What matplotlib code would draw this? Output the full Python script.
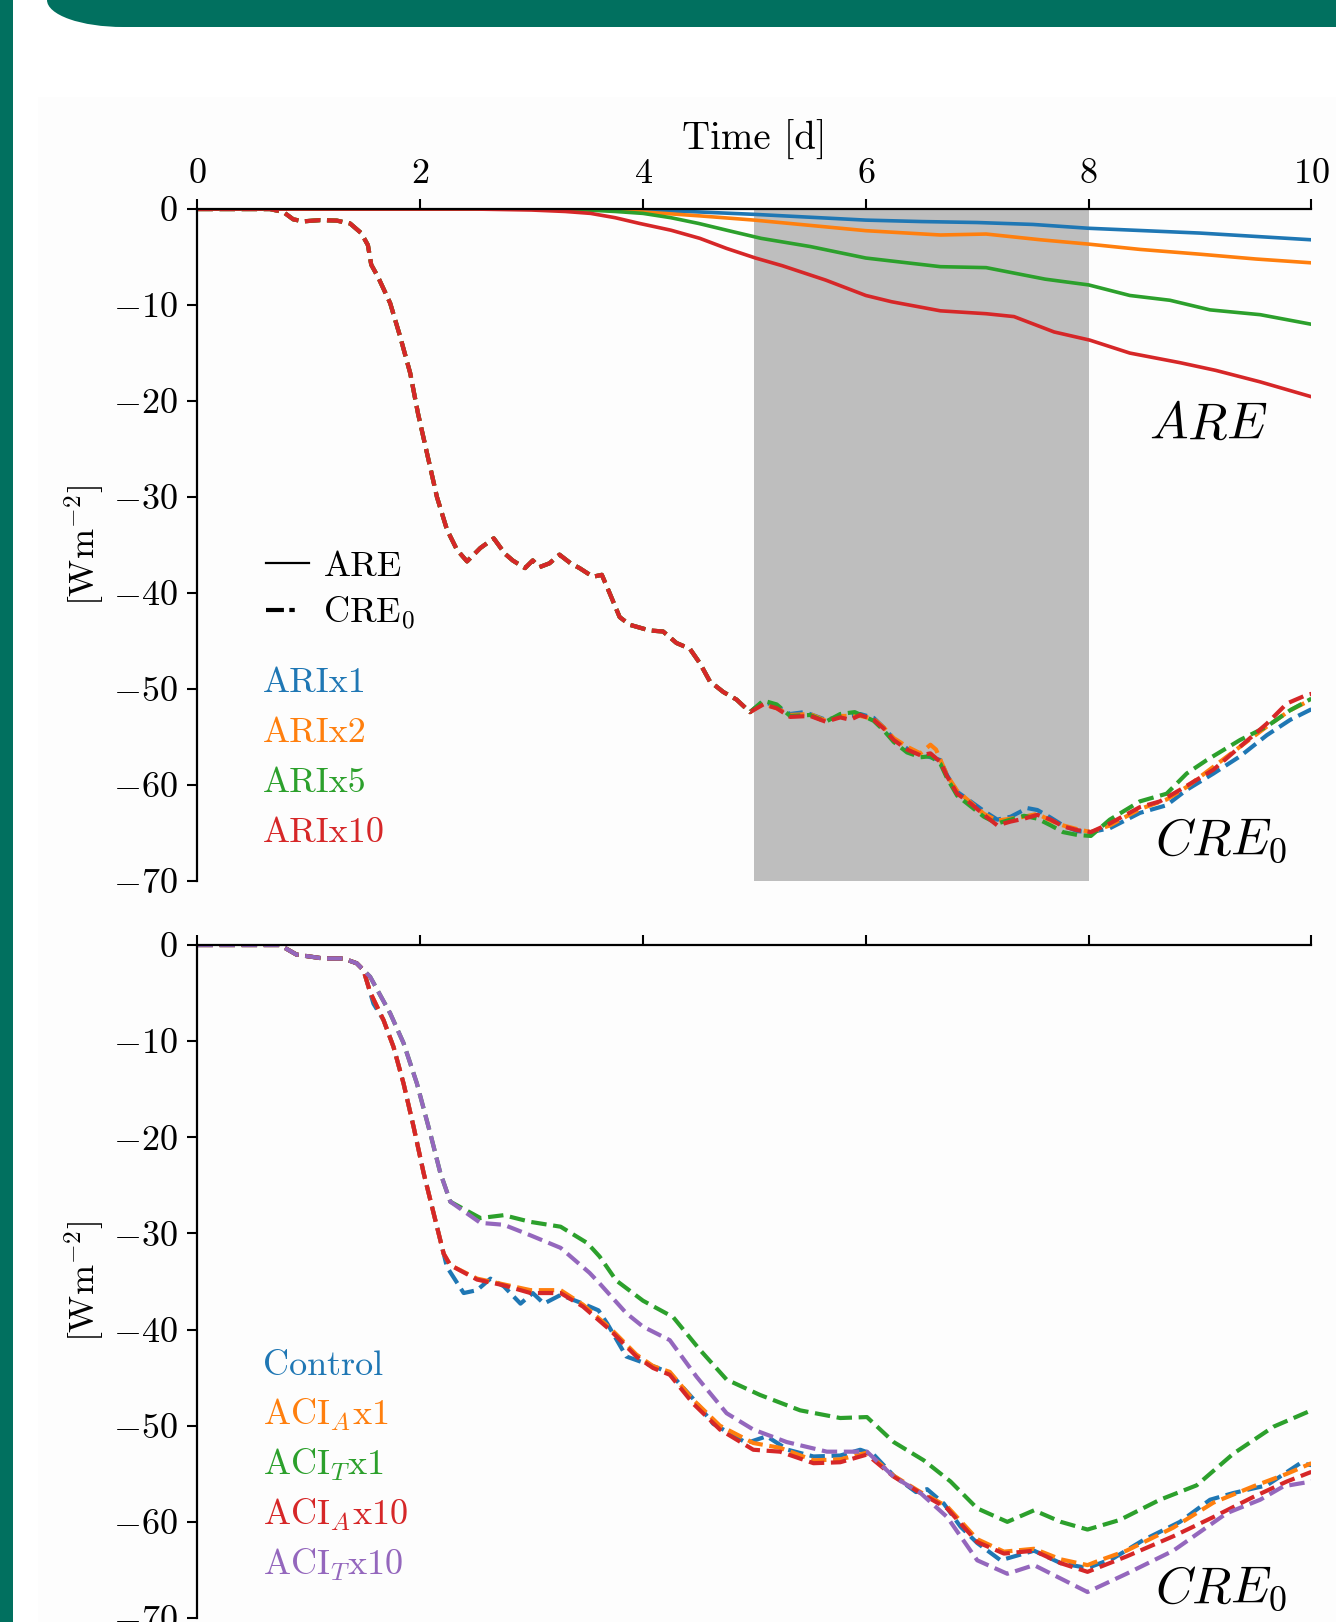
import matplotlib
matplotlib.use('Agg')
import matplotlib.pyplot as plt
from matplotlib.patches import Rectangle, Ellipse
from matplotlib.lines import Line2D

plt.rcParams['font.family'] = 'serif'
plt.rcParams['font.serif'] = ['cmr10']
plt.rcParams['mathtext.fontset'] = 'cm'
plt.rcParams['axes.formatter.use_mathtext'] = True

# ---------------- data: top panel, ARE (solid) ----------------
t_are_x1 = [0, 3.0, 3.5, 4.0, 4.5, 5.0, 5.5, 6.0, 6.5, 7.0, 7.5, 8.0, 8.5, 9.0, 9.5, 10.0]
are_x1 = [0, 0, 0, -0.1, -0.3, -0.55, -0.85, -1.15, -1.3, -1.4, -1.6, -2.0, -2.25, -2.5, -2.85, -3.2]
t_are_x2 = [0, 3.0, 3.5, 4.0, 4.5, 5.0, 5.5, 6.0, 6.67, 7.08, 7.57, 8.0, 8.46, 9.0, 9.5, 10.0]
are_x2 = [0, 0, -0.05, -0.3, -0.7, -1.15, -1.7, -2.25, -2.7, -2.6, -3.2, -3.65, -4.2, -4.7, -5.2, -5.6]
t_are_x5 = [0, 3.0, 3.5, 3.75, 4.0, 4.25, 4.5, 4.75, 5.06, 5.5, 6.0, 6.67, 7.08, 7.61, 8.0, 8.37, 8.73,
            9.09, 9.54, 10.0]
are_x5 = [0, 0, -0.1, -0.25, -0.45, -0.9, -1.5, -2.2, -3.05, -3.9, -5.1, -6.0, -6.1, -7.3, -7.9, -9.0,
          -9.5, -10.5, -11.0, -12.0]
t_are_x10 = [0, 2.5, 3.0, 3.3, 3.53, 3.75, 3.97, 4.25, 4.51, 4.75, 5.01, 5.25, 5.64, 6.0, 6.23, 6.67,
             7.08, 7.33, 7.69, 8.01, 8.37, 8.82, 9.14, 9.54, 10.0]
are_x10 = [0, 0, -0.1, -0.25, -0.45, -0.9, -1.5, -2.2, -3.05, -4.1, -5.1, -5.9, -7.4, -9.0, -9.65,
           -10.6, -10.9, -11.2, -12.8, -13.65, -15.0, -16.0, -16.8, -18.0, -19.55]

# ---------------- data: top panel, CRE0 (dashed) ----------------
t_cre_common = [0, 0.65, 0.77, 0.86, 0.95, 1.10, 1.25, 1.37, 1.47, 1.53, 1.56, 1.62, 1.73, 1.82, 1.91,
                1.98, 2.06, 2.15, 2.24, 2.33, 2.42, 2.54, 2.66, 2.76, 2.83, 2.94, 3.01, 3.07, 3.16,
                3.25, 3.35, 3.43, 3.55, 3.63, 3.70, 3.79, 3.88, 4.06, 4.18, 4.30, 4.42, 4.51, 4.60,
                4.72, 4.84, 4.96]
cre_common = [0, 0, -0.3, -1.07, -1.28, -1.15, -1.2, -1.5, -2.5, -3.75, -5.8, -7.05, -9.8, -13.3, -17.1,
              -21.3, -25.4, -30.0, -33.4, -35.5, -36.7, -35.3, -34.3, -35.9, -36.6, -37.4, -36.6, -37.3,
              -36.9, -36.0, -36.9, -37.4, -38.3, -38.1, -40.0, -42.5, -43.3, -43.9, -44.0, -45.2, -45.8,
              -47.3, -49.2, -50.3, -51.1, -52.4]

t_cre_x1 = [5.08, 5.20, 5.32, 5.45, 5.64, 5.77, 5.95, 6.07, 6.16, 6.25, 6.37, 6.49, 6.67, 6.73, 6.82,
            6.94, 7.06, 7.18, 7.30, 7.45, 7.54, 7.66, 7.77, 7.90, 8.02, 8.19, 8.46, 8.70, 8.88, 9.12,
            9.36, 9.60, 9.81, 10.0]
cre_x1 = [-51.3, -51.8, -52.6, -52.4, -53.2, -52.9, -52.6, -53.0, -54.0, -55.2, -56.2, -56.8, -57.4,
          -59.0, -60.7, -61.7, -62.7, -63.6, -63.3, -62.4, -62.6, -63.4, -64.2, -64.8, -64.9, -64.5,
          -62.9, -62.1, -60.5, -58.8, -57.0, -54.8, -53.2, -52.1]
t_cre_x2 = [5.08, 5.20, 5.32, 5.50, 5.64, 5.77, 5.95, 6.07, 6.16, 6.25, 6.37, 6.49, 6.58, 6.63, 6.73,
            6.82, 6.94, 7.06, 7.18, 7.30, 7.42, 7.54, 7.66, 7.77, 7.90, 8.02, 8.19, 8.46, 8.70, 8.88,
            9.12, 9.36, 9.60, 9.81, 10.0]
cre_x2 = [-51.5, -52.0, -52.7, -52.6, -53.3, -52.8, -52.8, -53.1, -54.0, -55.1, -56.0, -56.7, -55.8,
          -56.3, -59.0, -60.6, -61.8, -63.0, -63.7, -63.5, -63.3, -63.0, -63.7, -64.2, -64.6, -64.9,
          -64.2, -62.5, -61.5, -60.2, -58.1, -56.0, -53.9, -52.2, -51.1]
t_cre_x5 = [5.08, 5.20, 5.32, 5.50, 5.64, 5.77, 5.90, 6.07, 6.16, 6.25, 6.37, 6.49, 6.58, 6.67, 6.73,
            6.82, 6.94, 7.06, 7.18, 7.30, 7.42, 7.54, 7.66, 7.77, 7.90, 8.02, 8.19, 8.46, 8.70, 8.88,
            9.06, 9.36, 9.60, 9.81, 10.0]
cre_x5 = [-51.2, -51.6, -52.8, -52.7, -53.4, -52.6, -52.4, -53.3, -54.3, -55.5, -56.6, -57.1, -57.0,
          -57.8, -59.3, -61.1, -62.2, -63.3, -64.0, -63.6, -63.2, -63.5, -64.2, -64.9, -65.2, -65.3,
          -63.6, -61.7, -60.9, -58.8, -57.4, -55.3, -53.9, -52.2, -51.0]
t_cre_x10 = [5.08, 5.20, 5.32, 5.50, 5.64, 5.77, 5.86, 5.95, 6.07, 6.16, 6.25, 6.37, 6.49, 6.58, 6.67,
             6.73, 6.82, 6.94, 7.06, 7.18, 7.30, 7.42, 7.54, 7.66, 7.77, 7.90, 8.02, 8.19, 8.46, 8.64,
             8.82, 9.12, 9.36, 9.60, 9.78, 9.96, 10.0]
cre_x10 = [-51.6, -52.0, -52.9, -52.8, -53.4, -52.95, -53.2, -52.7, -53.2, -54.1, -55.3, -56.3, -56.9,
           -56.7, -57.6, -59.1, -60.9, -61.9, -63.1, -64.2, -63.8, -63.5, -63.1, -63.6, -64.3, -64.7,
           -64.9, -64.0, -62.3, -61.7, -60.5, -58.4, -56.0, -53.6, -51.5, -50.6, -50.5]

# ---------------- data: bottom panel, CRE0 ----------------
t_ctrl = [0, 0.74, 0.89, 1.13, 1.31, 1.43, 1.49, 1.58, 1.67, 1.76, 1.85, 1.94, 2.03, 2.12, 2.21, 2.24,
          2.39, 2.51, 2.63, 2.75, 2.90, 3.01, 3.11, 3.26, 3.46, 3.60, 3.68, 3.85, 4.09, 4.24, 4.45, 4.63,
          4.93, 5.11, 5.30, 5.53, 5.77, 5.95, 6.07, 6.25, 6.45, 6.55, 6.70, 6.85, 7.0, 7.21, 7.51, 7.75,
          7.99, 8.22, 8.49, 8.82, 9.09, 9.30, 9.60, 9.90, 10.0]
cre_ctrl = [0, 0, -1.0, -1.4, -1.4, -1.9, -2.6, -6.1, -7.8, -10.6, -14.4, -18.9, -23.7, -27.9, -32.1,
            -33.5, -36.2, -35.9, -34.7, -35.5, -37.3, -36.2, -37.3, -36.4, -37.3, -38.0, -39.4, -42.8,
            -43.8, -44.5, -47.2, -49.8, -51.8, -51.1, -52.5, -53.2, -53.1, -52.5, -53.0, -55.2, -56.9,
            -56.6, -58.1, -60.5, -62.2, -64.0, -63.0, -64.3, -64.8, -63.8, -61.9, -60.0, -57.7, -57.0,
            -56.2, -53.9, -54.1]
t_acia_x1 = [0, 0.74, 0.89, 1.13, 1.31, 1.43, 1.49, 1.55, 1.67, 1.76, 1.85, 1.94, 2.03, 2.12, 2.21,
             2.27, 2.51, 2.75, 2.99, 3.26, 3.46, 3.70, 3.94, 4.09, 4.24, 4.45, 4.69, 4.99, 5.23, 5.53,
             5.77, 6.01, 6.25, 6.49, 6.73, 7.0, 7.24, 7.51, 7.75, 7.99, 8.10, 8.34, 8.76, 9.12, 9.48,
             9.78, 10.0]
cre_acia_x1 = [0, 0, -1.0, -1.4, -1.4, -1.9, -2.6, -4.9, -7.8, -10.6, -14.4, -18.9, -23.7, -27.9, -32.1,
               -33.3, -34.7, -35.3, -35.9, -35.9, -37.4, -39.8, -42.6, -43.8, -44.4, -47.3, -50.0, -51.8,
               -52.3, -53.6, -53.5, -52.8, -55.2, -56.9, -58.4, -61.8, -63.1, -62.8, -63.9, -64.5, -64.0,
               -63.0, -60.6, -58.0, -56.3, -55.0, -53.9]
t_acit_x1 = [0, 0.74, 0.89, 1.13, 1.31, 1.43, 1.49, 1.55, 1.73, 1.85, 1.97, 2.09, 2.18, 2.27, 2.54,
             2.75, 2.99, 3.26, 3.50, 3.61, 3.76, 4.0, 4.27, 4.51, 4.75, 5.05, 5.41, 5.77, 6.01, 6.25,
             6.52, 6.76, 7.0, 7.27, 7.51, 7.75, 7.99, 8.28, 8.64, 8.97, 9.30, 9.66, 10.0]
cre_acit_x1 = [0, 0, -1.0, -1.4, -1.4, -1.9, -2.6, -3.3, -7.1, -10.2, -14.4, -19.6, -23.7, -26.7, -28.4,
               -28.1, -28.8, -29.3, -31.0, -32.4, -34.9, -37.0, -38.7, -42.1, -45.2, -46.8, -48.4, -49.2,
               -49.1, -51.7, -53.6, -55.8, -58.6, -60.0, -58.8, -60.0, -60.8, -59.8, -57.7, -56.2, -52.9,
               -50.1, -48.4]
t_acia_x10 = [0, 0.74, 0.89, 1.13, 1.31, 1.43, 1.49, 1.55, 1.67, 1.76, 1.85, 1.94, 2.03, 2.12, 2.21,
              2.27, 2.51, 2.75, 2.99, 3.26, 3.46, 3.70, 3.94, 4.09, 4.24, 4.45, 4.69, 4.99, 5.23, 5.53,
              5.77, 6.01, 6.25, 6.49, 6.73, 7.0, 7.24, 7.51, 7.75, 7.99, 8.34, 8.76, 9.12, 9.48, 9.78,
              10.0]
cre_acia_x10 = [0, 0, -1.0, -1.4, -1.4, -1.9, -2.6, -4.9, -7.8, -10.6, -14.4, -18.9, -23.7, -27.9, -32.1,
                -33.3, -34.8, -35.4, -36.2, -36.2, -37.6, -40.0, -42.8, -44.0, -44.7, -47.7, -50.4, -52.5,
                -52.7, -53.9, -53.8, -53.0, -55.3, -57.0, -58.6, -62.1, -63.3, -63.0, -64.3, -65.2, -63.6,
                -61.5, -59.5, -57.4, -55.8, -54.8]
t_acit_x10 = [0, 0.74, 0.89, 1.13, 1.31, 1.43, 1.49, 1.55, 1.73, 1.85, 1.97, 2.09, 2.18, 2.27, 2.54,
              2.75, 2.99, 3.26, 3.52, 3.61, 3.85, 4.0, 4.24, 4.48, 4.75, 4.99, 5.29, 5.65, 6.01, 6.25,
              6.49, 6.73, 7.0, 7.27, 7.51, 7.75, 7.99, 8.34, 8.76, 9.24, 9.54, 9.75, 10.0]
cre_acit_x10 = [0, 0, -1.0, -1.4, -1.4, -1.9, -2.6, -3.3, -7.1, -10.2, -14.4, -19.6, -23.7, -26.7, -28.9,
                -29.1, -30.2, -31.5, -34.1, -35.2, -38.3, -39.7, -41.1, -44.9, -48.7, -50.4, -51.7, -52.7,
                -52.7, -55.3, -57.0, -59.5, -64.0, -65.4, -64.5, -65.9, -67.3, -65.4, -63.0, -59.1, -57.7,
                -56.3, -55.8]

ari_labels = ['ARIx1', 'ARIx2', 'ARIx5', 'ARIx10']
aci_labels = ['Control', 'ACI$_A$x1', 'ACI$_T$x1', 'ACI$_A$x10', 'ACI$_T$x10']
colors = ['#1f77b4', '#ff7f0e', '#2ca02c', '#d62728', '#9467bd']
teal = '#01705f'

fig = plt.figure(figsize=(13.36, 16.22), dpi=100)
fig.patch.set_facecolor('white')

# page frame behind the chart
bg = fig.add_axes([0, 0, 1, 1], zorder=-10)
bg.set_xlim(0, 1336)
bg.set_ylim(1622, 0)
bg.axis('off')
bg.add_patch(Rectangle((38, 97), 1300, 1530, color='#fdfdfd', lw=0))
bg.add_patch(Rectangle((0, 0), 13, 1622, color=teal, lw=0))
bg.add_patch(Rectangle((123, 0), 1213, 27, color=teal, lw=0))
bg.add_patch(Ellipse((123, 0), 152, 54, color=teal, lw=0))

ax1 = fig.add_axes([0.1478, 0.4568, 0.8338, 0.4143])
ax2 = fig.add_axes([0.1478, 0.00247, 0.8338, 0.4149])

for ax in (ax1, ax2):
    ax.set_facecolor('none')
    ax.set_xlim(0, 10)
    ax.set_ylim(-70, 0)
    ax.xaxis.tick_top()
    ax.set_xticks([0, 2, 4, 6, 8, 10])
    ax.set_yticks([0, -10, -20, -30, -40, -50, -60, -70])
    ax.spines['right'].set_visible(False)
    ax.spines['bottom'].set_visible(False)
    for s in ('left', 'top'):
        ax.spines[s].set_linewidth(1.6)
    ax.tick_params(direction='out', length=7, width=1.5, labelsize=26, pad=7)
    ax.set_ylabel('[Wm$^{-2}$]', fontsize=26)
    ax.yaxis.set_label_coords(-0.0815, 0.5)

ax2.tick_params(labeltop=False)
ax1.xaxis.set_label_position('top')
ax1.set_xlabel('Time [d]', fontsize=28)
ax1.xaxis.label.set_verticalalignment('baseline')
ax1.xaxis.set_label_coords(0.5, 1.088)

# top panel
ax1.axvspan(5, 8, color='#bebebe', lw=0, zorder=0.5)
are_t = [t_are_x1, t_are_x2, t_are_x5, t_are_x10]
are_v = [are_x1, are_x2, are_x5, are_x10]
cre_t = [t_cre_x1, t_cre_x2, t_cre_x5, t_cre_x10]
cre_v = [cre_x1, cre_x2, cre_x5, cre_x10]
for i in range(4):
    ax1.plot(are_t[i], are_v[i], color=colors[i], lw=2.6, ls='-')
for i in range(4):
    ax1.plot(t_cre_common + cre_t[i], cre_common + cre_v[i], color=colors[i], lw=3.0, ls='--')

handles = [Line2D([], [], color='k', lw=1.6, ls='-'),
           Line2D([], [], color='k', lw=3.0, dashes=[4.3, 1.3, 1.3, 10])]
ax1.legend(handles, ['ARE', 'CRE$_0$'], frameon=False, fontsize=26, loc='upper left',
           bbox_to_anchor=(0.032, 0.54), handlelength=1.2, handletextpad=0.4, labelspacing=0.32)

for i, lab in enumerate(ari_labels):
    ax1.text(0.059, 0.2817 - i * 0.0744, lab, color=colors[i], fontsize=26,
             transform=ax1.transAxes, ha='left', va='baseline')

ax1.text(9.61, -23.9, '$ARE$', fontsize=37, ha='right', va='baseline')
ax1.text(8.6, -67.2, '$CRE_0$', fontsize=37, ha='left', va='baseline')

# bottom panel
aci_t = [t_ctrl, t_acia_x1, t_acit_x1, t_acia_x10, t_acit_x10]
aci_v = [cre_ctrl, cre_acia_x1, cre_acit_x1, cre_acia_x10, cre_acit_x10]
for i in range(5):
    ax2.plot(aci_t[i], aci_v[i], color=colors[i], lw=3.0, ls='--')

for i, lab in enumerate(aci_labels):
    ax2.text(0.059, 0.361 - i * 0.0743, lab, color=colors[i], fontsize=26,
             transform=ax2.transAxes, ha='left', va='baseline')

ax2.text(8.6, -68.4, '$CRE_0$', fontsize=37, ha='left', va='baseline')

fig.savefig('out.png', dpi=100, facecolor='white')
